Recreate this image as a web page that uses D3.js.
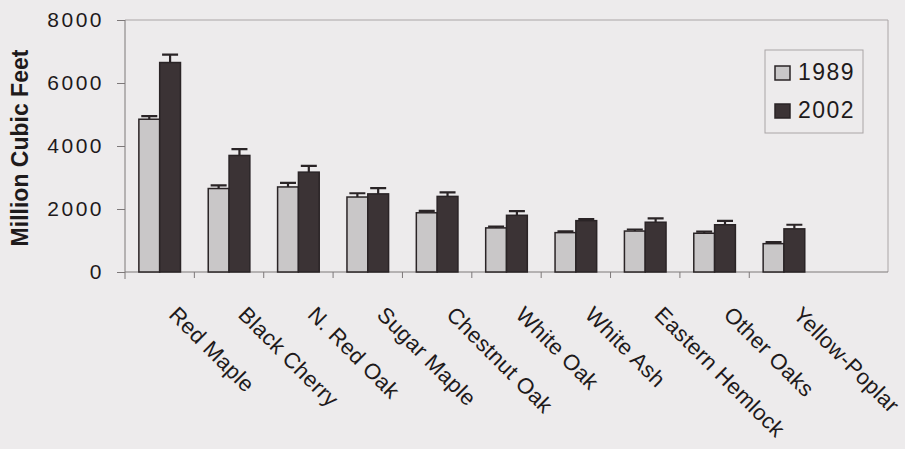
<!DOCTYPE html>
<html>
<head>
<meta charset="utf-8">
<script src="https://cdn.jsdelivr.net/npm/d3@7"></script>
<style>
  body { margin: 0; background: #edebec; }
  text { font-family: "Liberation Sans", Arial, sans-serif; fill: #1e1a1b; }
</style>
</head>
<body>
<div id="chart"></div>
<script>
// data
const categories = ["Red Maple", "Black Cherry", "N. Red Oak", "Sugar Maple", "Chestnut Oak",
                    "White Oak", "White Ash", "Eastern Hemlock", "Other Oaks", "Yellow-Poplar"];
const seriesNames = ["1989", "2002"];
const values1989 = [4850, 2650, 2700, 2380, 1880, 1400, 1250, 1300, 1230, 900];
const values2002 = [6650, 3700, 3170, 2480, 2400, 1800, 1630, 1580, 1500, 1370];
const err1989 = [100, 100, 130, 120, 60, 40, 40, 50, 50, 50];
const err2002 = [250, 200, 200, 180, 130, 130, 50, 120, 120, 130];
const yTicks = [0, 2000, 4000, 6000, 8000];

const width = 905, height = 449;
const margin = {left: 125, right: 17, top: 20, bottom: 177};
const plotRight = width - margin.right;
const plotBottom = height - margin.bottom;

const fills = ["#c9c7c8", "#3b3335"];
const edge = "#2a2426";
const axisColor = "#7d7879";

let svg = d3.select("#chart")
    .append("svg")
    .attr("width", width)
    .attr("height", height);

// 11 slots in the frame, the last one left empty
const step = (plotRight - margin.left) / 11;

let x0 = d3.scaleBand()
    .domain(categories)
    .range([margin.left, margin.left + step * categories.length])
    .paddingInner(0.4)
    .paddingOuter(0.2);

let x1 = d3.scaleBand()
    .domain(seriesNames)
    .range([0, x0.bandwidth()]);

let y = d3.scaleLinear()
    .domain([0, 8000])
    .range([plotBottom, margin.top]);

// frame: top and right edges
svg.append("path")
    .attr("d", `M${margin.left},${margin.top}H${plotRight}V${plotBottom}`)
    .attr("fill", "none")
    .attr("stroke", "#aaa5a6")
    .attr("stroke-width", 1);

// y axis
let yAxis = svg.append("g")
    .attr("transform", `translate(${margin.left}, 0)`)
    .call(d3.axisLeft(y).tickValues(yTicks).tickFormat(d3.format("d")).tickSize(8).tickPadding(13));
yAxis.select(".domain").attr("stroke", axisColor).attr("d", `M0,${margin.top}V${plotBottom + 7}`);
yAxis.selectAll(".tick line").attr("stroke", axisColor);
yAxis.selectAll(".tick text")
    .style("font-size", "21px")
    .style("letter-spacing", "2.5px")
    .attr("fill", "#1e1a1b");

// x axis line with ticks at category boundaries
let xAxisG = svg.append("g");
xAxisG.append("line")
    .attr("x1", margin.left).attr("x2", plotRight)
    .attr("y1", plotBottom).attr("y2", plotBottom)
    .attr("stroke", axisColor);
xAxisG.selectAll("line.tk")
    .data(categories.slice(1))
    .enter()
    .append("line")
    .attr("class", "tk")
    .attr("x1", d => x0(d) - x0.step() * x0.paddingInner() / 2)
    .attr("x2", d => x0(d) - x0.step() * x0.paddingInner() / 2)
    .attr("y1", plotBottom)
    .attr("y2", plotBottom + 6)
    .attr("stroke", axisColor);

// rotated category labels
xAxisG.selectAll("text")
    .data(categories)
    .enter()
    .append("text")
    .attr("transform", d => `translate(${x0(d) + x0.bandwidth() / 2 + 8}, ${plotBottom + 44}) rotate(45)`)
    .style("font-size", "22px")
    .style("letter-spacing", "0.4px")
    .style("text-anchor", "start")
    .text(d => d);

// bars
const rows = categories.map((c, i) => ({
    name: c,
    bars: [
        {key: "1989", value: values1989[i], err: err1989[i]},
        {key: "2002", value: values2002[i], err: err2002[i]}
    ]
}));

let groups = svg.selectAll("g.grp")
    .data(rows)
    .enter()
    .append("g")
    .attr("class", "grp")
    .attr("transform", d => `translate(${x0(d.name)}, 0)`);

// error bars (upper only), drawn behind the bars
groups.selectAll("path.err")
    .data(d => d.bars)
    .enter()
    .append("path")
    .attr("class", "err")
    .attr("d", d => {
        const cx = x1(d.key) + x1.bandwidth() / 2;
        const top = y(d.value + d.err);
        return `M${cx},${y(d.value)}V${top}M${cx - 8},${top}H${cx + 8}`;
    })
    .attr("stroke", edge)
    .attr("stroke-width", 2.2)
    .attr("fill", "none");

groups.selectAll("rect")
    .data(d => d.bars)
    .enter()
    .append("rect")
    .attr("x", d => x1(d.key))
    .attr("y", d => y(d.value))
    .attr("width", x1.bandwidth())
    .attr("height", d => plotBottom - y(d.value))
    .attr("fill", (d, i) => fills[i])
    .attr("stroke", edge)
    .attr("stroke-width", 1.5);

// legend
let legend = svg.append("g").attr("transform", "translate(765, 50)");
legend.append("rect")
    .attr("width", 98).attr("height", 83)
    .attr("fill", "none")
    .attr("stroke", "#aaa5a6");
seriesNames.forEach((s, i) => {
    legend.append("rect")
        .attr("x", 10).attr("y", 16 + i * 38)
        .attr("width", 15).attr("height", 14)
        .attr("fill", fills[i])
        .attr("stroke", edge)
        .attr("stroke-width", 1.5);
    legend.append("text")
        .attr("x", 33).attr("y", 30 + i * 38)
        .style("font-size", "23px")
        .style("letter-spacing", "1.5px")
        .text(s);
});

// y axis title
svg.append("text")
    .attr("transform", `translate(28, ${(margin.top + plotBottom) / 2 + 2}) rotate(-90)`)
    .style("text-anchor", "middle")
    .style("font-size", "23px")
    .style("font-weight", "bold")
    .text("Million Cubic Feet");
</script>
</body>
</html>
